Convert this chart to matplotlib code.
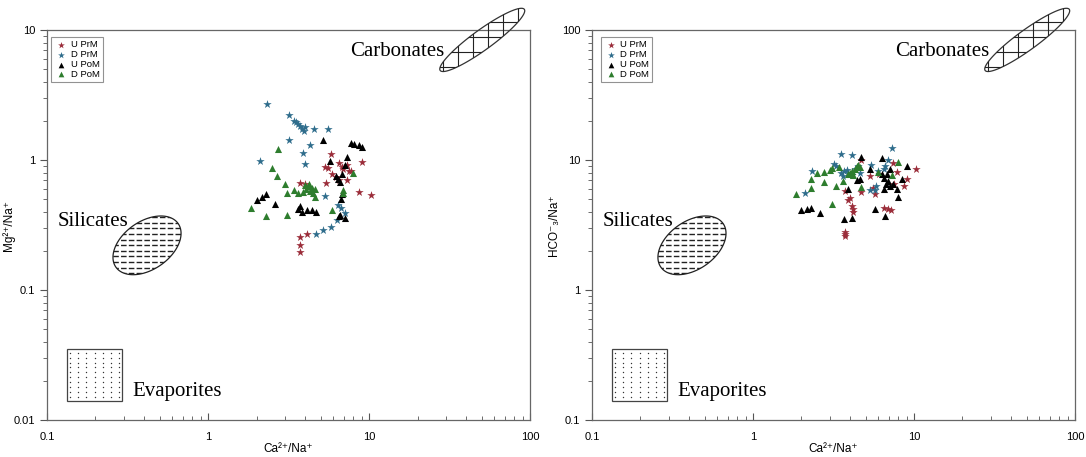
import numpy as np
import matplotlib
matplotlib.use("Agg")
import matplotlib.pyplot as plt
import matplotlib.ticker as ticker
from matplotlib.patches import Polygon, Rectangle

plt.rcParams['font.family'] = ['Liberation Sans', 'DejaVu Sans']

# ---- data (Ca/Na, ratio) ----
series_names = ['U PrM', 'D PrM', 'U PoM', 'D PoM']
series_colors = ['#9b2d3a', '#2f6d8c', '#000000', '#2e7d2e']
series_markers = ['*', '*', '^', '^']

# left panel: Mg/Na vs Ca/Na
mg_u_prm = [(3.75, 0.257), (3.75, 0.224), (3.75, 0.197), (4.14, 0.27), (3.75, 0.67), (4.0, 0.66),
            (5.43, 0.67), (5.3, 0.89), (5.55, 0.87), (5.8, 1.11), (5.85, 0.78), (6.2, 0.74),
            (6.5, 0.70), (6.5, 0.95), (6.8, 0.89), (7.3, 0.92), (7.5, 0.83), (7.3, 0.70),
            (7.7, 0.82), (9.06, 0.97), (8.6, 0.57), (10.3, 0.54), (6.9, 0.86)]
mg_d_prm = [(2.31, 2.70), (3.2, 2.22), (3.4, 2.0), (3.5, 1.95), (3.6, 1.9), (3.7, 1.82),
            (3.85, 1.75), (3.95, 1.68), (4.0, 1.8), (4.57, 1.72), (5.52, 1.73), (3.2, 1.43),
            (4.28, 1.30), (3.9, 1.14), (4.0, 0.93), (2.09, 0.98), (5.3, 0.53), (6.4, 0.45),
            (6.7, 0.43), (7.1, 0.39), (6.3, 0.345), (5.8, 0.307), (5.2, 0.29), (4.65, 0.27)]
mg_u_pom = [(2.0, 0.49), (2.15, 0.52), (2.3, 0.55), (2.62, 0.46), (3.6, 0.42), (3.75, 0.44),
            (3.85, 0.40), (4.1, 0.41), (4.4, 0.41), (4.7, 0.40), (5.2, 1.44), (5.7, 0.98),
            (7.3, 1.05), (6.6, 0.38), (7.1, 0.36), (6.5, 0.37), (6.7, 0.50), (6.75, 0.55),
            (7.7, 1.36), (8.1, 1.34), (8.6, 1.31), (9.1, 1.26), (6.2, 0.75), (6.4, 0.71),
            (6.6, 0.68), (6.8, 0.78), (7.1, 0.92)]
mg_d_pom = [(1.85, 0.43), (2.3, 0.37), (2.72, 1.21), (2.5, 0.87), (2.7, 0.76), (3.0, 0.66),
            (3.1, 0.56), (3.4, 0.59), (3.1, 0.38), (3.6, 0.56), (3.9, 0.57), (4.05, 0.60),
            (4.2, 0.63), (4.3, 0.58), (4.4, 0.61), (4.5, 0.56), (4.6, 0.52), (4.25, 0.66),
            (4.0, 0.64), (5.9, 0.41), (6.9, 0.59), (7.9, 0.80), (6.9, 0.56), (4.6, 0.60)]

# right panel: HCO3/Na vs Ca/Na
hco_u_prm = [(3.75, 2.81), (3.75, 2.7), (3.75, 2.6), (3.9, 4.9), (4.0, 5.1), (4.1, 4.4),
             (4.2, 4.0), (4.15, 4.2), (3.75, 5.8), (4.7, 5.7), (5.35, 7.5), (5.7, 5.5),
             (6.1, 7.8), (6.5, 4.25), (6.9, 4.2), (7.2, 4.1), (7.4, 9.5), (7.8, 8.1),
             (8.7, 6.3), (9.1, 7.2), (10.3, 8.5), (4.7, 10.0), (5.6, 6.1), (7.5, 6.6)]
hco_d_prm = [(2.34, 8.3), (2.1, 5.6), (3.5, 11.2), (4.1, 10.9), (3.2, 9.4), (3.5, 8.0),
             (3.7, 8.2), (3.85, 8.4), (4.1, 7.7), (5.4, 9.1), (6.0, 8.3), (5.7, 5.9),
             (6.6, 9.0), (6.9, 10.0), (7.3, 12.4), (5.8, 6.3), (5.3, 5.9), (4.6, 7.9),
             (3.6, 7.6), (4.3, 8.6), (6.5, 8.6), (3.3, 9.0), (3.9, 7.9), (4.5, 9.0)]
hco_u_pom = [(2.0, 4.1), (2.15, 4.2), (2.3, 4.3), (2.6, 3.9), (3.65, 3.5), (4.1, 3.6),
             (3.9, 6.0), (4.45, 7.0), (4.6, 7.2), (4.7, 10.6), (5.7, 4.2), (6.3, 10.4),
             (6.6, 3.7), (6.5, 6.0), (6.7, 6.6), (6.9, 6.9), (7.1, 6.3), (7.4, 6.5),
             (7.8, 6.0), (6.3, 7.8), (6.5, 7.3), (7.9, 5.2), (8.4, 7.2), (9.1, 9.0),
             (7.1, 8.6), (5.3, 8.6), (6.8, 7.8)]
hco_d_pom = [(1.85, 5.45), (2.3, 6.1), (2.3, 7.2), (2.5, 8.0), (2.75, 8.1), (3.0, 8.4),
             (3.1, 8.7), (2.75, 6.8), (3.1, 4.6), (3.3, 6.3), (3.6, 6.9), (3.9, 7.8),
             (4.1, 8.3), (4.3, 8.6), (4.4, 9.0), (4.5, 9.1), (4.6, 8.9), (4.2, 7.7),
             (4.7, 6.2), (6.0, 8.1), (8.0, 9.7), (7.3, 7.7), (3.4, 8.9), (4.0, 8.0)]

panels = [
    dict(series=[mg_u_prm, mg_d_prm, mg_u_pom, mg_d_pom], ylim=(0.01, 10),
         ylabel='Mg²⁺/Na⁺'),
    dict(series=[hco_u_prm, hco_d_prm, hco_u_pom, hco_d_pom], ylim=(0.1, 100),
         ylabel='HCO⁻₃/Na⁺'),
]

fig = plt.figure(figsize=(10.86, 4.57), dpi=100)
ax_w, ax_h = 0.4448, 0.853
lefts = [0.0433, 0.5451]
W = ax_w * 1086  # axes size in pixels
H = ax_h * 457


def ellipse_poly(cx, cy, a, b, ang):
    # cx, cy in axes fraction; a, b in pixels; angle in degrees
    t = np.linspace(0, 2 * np.pi, 200)
    th = np.radians(ang)
    dx = a * np.cos(t) * np.cos(th) - b * np.sin(t) * np.sin(th)
    dy = a * np.cos(t) * np.sin(th) + b * np.sin(t) * np.cos(th)
    return np.column_stack([cx + dx / W, cy + dy / H])


def clipped_line(ax, xs, ys, patch, **kw):
    ln, = ax.plot(xs, ys, transform=ax.transAxes, **kw)
    ln.set_clip_path(patch)
    ln.set_clip_box(None)


for i, p in enumerate(panels):
    ax = fig.add_axes([lefts[i], 0.081, ax_w, ax_h])
    for pts, name, col, mk in zip(p['series'], series_names, series_colors, series_markers):
        xs = [q[0] for q in pts]
        ys = [q[1] for q in pts]
        ax.scatter(xs, ys, marker=mk, s=40 if mk == '*' else 26, color=col,
                   linewidths=0, label=name, zorder=3)
    ax.set_xscale('log')
    ax.set_yscale('log')
    ax.set_xlim(0.1, 100)
    ax.set_ylim(*p['ylim'])
    fmt = ticker.FuncFormatter(lambda v, _: f'{v:g}')
    ax.xaxis.set_major_formatter(fmt)
    ax.yaxis.set_major_formatter(fmt)
    ax.xaxis.set_minor_formatter(ticker.NullFormatter())
    ax.yaxis.set_minor_formatter(ticker.NullFormatter())
    ax.tick_params(axis='x', which='both', direction='in', labelsize=8, pad=9)
    ax.tick_params(axis='y', which='both', direction='out', labelsize=8)
    ax.tick_params(which='major', length=5, width=0.8, color='#555555')
    ax.tick_params(which='minor', length=3, width=0.6, color='#555555')
    for s in ax.spines.values():
        s.set_color('#666666')
        s.set_linewidth(0.9)
    ax.set_xlabel('Ca²⁺/Na⁺', fontsize=8.5)
    ax.xaxis.set_label_coords(0.5, -0.06)
    ax.set_ylabel(p['ylabel'], fontsize=8.5)
    ax.yaxis.set_label_coords(-0.066, 0.5)

    leg = ax.legend(loc='upper left', bbox_to_anchor=(0.009 + 0.009 * i, 0.983),
                    borderaxespad=0, fontsize=6.8, frameon=True, fancybox=False,
                    edgecolor='#777777', borderpad=0.35, labelspacing=0.1,
                    handletextpad=0.3, handlelength=1.4, markerscale=0.8)
    leg.get_frame().set_linewidth(0.8)

    # Carbonates field: thin tilted ellipse with square grid
    cpoly = Polygon(ellipse_poly(0.901, 0.975, 52, 10, 36), closed=True, fill=False,
                    edgecolor='#333333', lw=0.9, transform=ax.transAxes, clip_on=False, zorder=4)
    ax.add_patch(cpoly)
    for gx in np.arange(0.82, 1.0, 15 / W):
        clipped_line(ax, [gx, gx], [0.85, 1.1], cpoly, color='#222222', lw=0.8, zorder=4)
    for gy in np.arange(0.905, 1.06, 15 / H):
        clipped_line(ax, [0.78, 1.02], [gy, gy], cpoly, color='#222222', lw=0.8, zorder=4)
    ax.text(0.822, 0.944, 'Carbonates', transform=ax.transAxes, ha='right', va='center',
            fontsize=15, family='Liberation Serif')

    # Silicates field: tilted ellipse with dashed horizontal lines
    spoly = Polygon(ellipse_poly(0.207, 0.448, 38, 24, 35), closed=True, fill=False,
                    edgecolor='#222222', lw=0.9, transform=ax.transAxes, zorder=4)
    ax.add_patch(spoly)
    for gy in np.arange(0.448 - 0.1, 0.448 + 0.1, 5.6 / H):
        clipped_line(ax, [0.12, 0.30], [gy, gy], spoly, color='#222222', lw=1.0,
                     dashes=(4, 1.6), zorder=4)
    ax.text(0.0215, 0.51, 'Silicates', transform=ax.transAxes, ha='left', va='center',
            fontsize=15, family='Liberation Serif')

    # Evaporites field: rectangle with dots
    ax.add_patch(Rectangle((0.042, 0.049), 0.113, 0.132, fill=False, edgecolor='#444444',
                           lw=0.9, transform=ax.transAxes, zorder=4))
    dx_, dy_ = np.meshgrid(np.linspace(0.048, 0.149, 7), np.linspace(0.058, 0.173, 10))
    ax.plot(dx_.ravel(), dy_.ravel(), 'o', ms=1.0, color='#333333', mew=0,
            transform=ax.transAxes, zorder=4)
    ax.text(0.177, 0.073, 'Evaporites', transform=ax.transAxes, ha='left', va='center',
            fontsize=15, family='Liberation Serif')

fig.savefig('out.png', dpi=100)
